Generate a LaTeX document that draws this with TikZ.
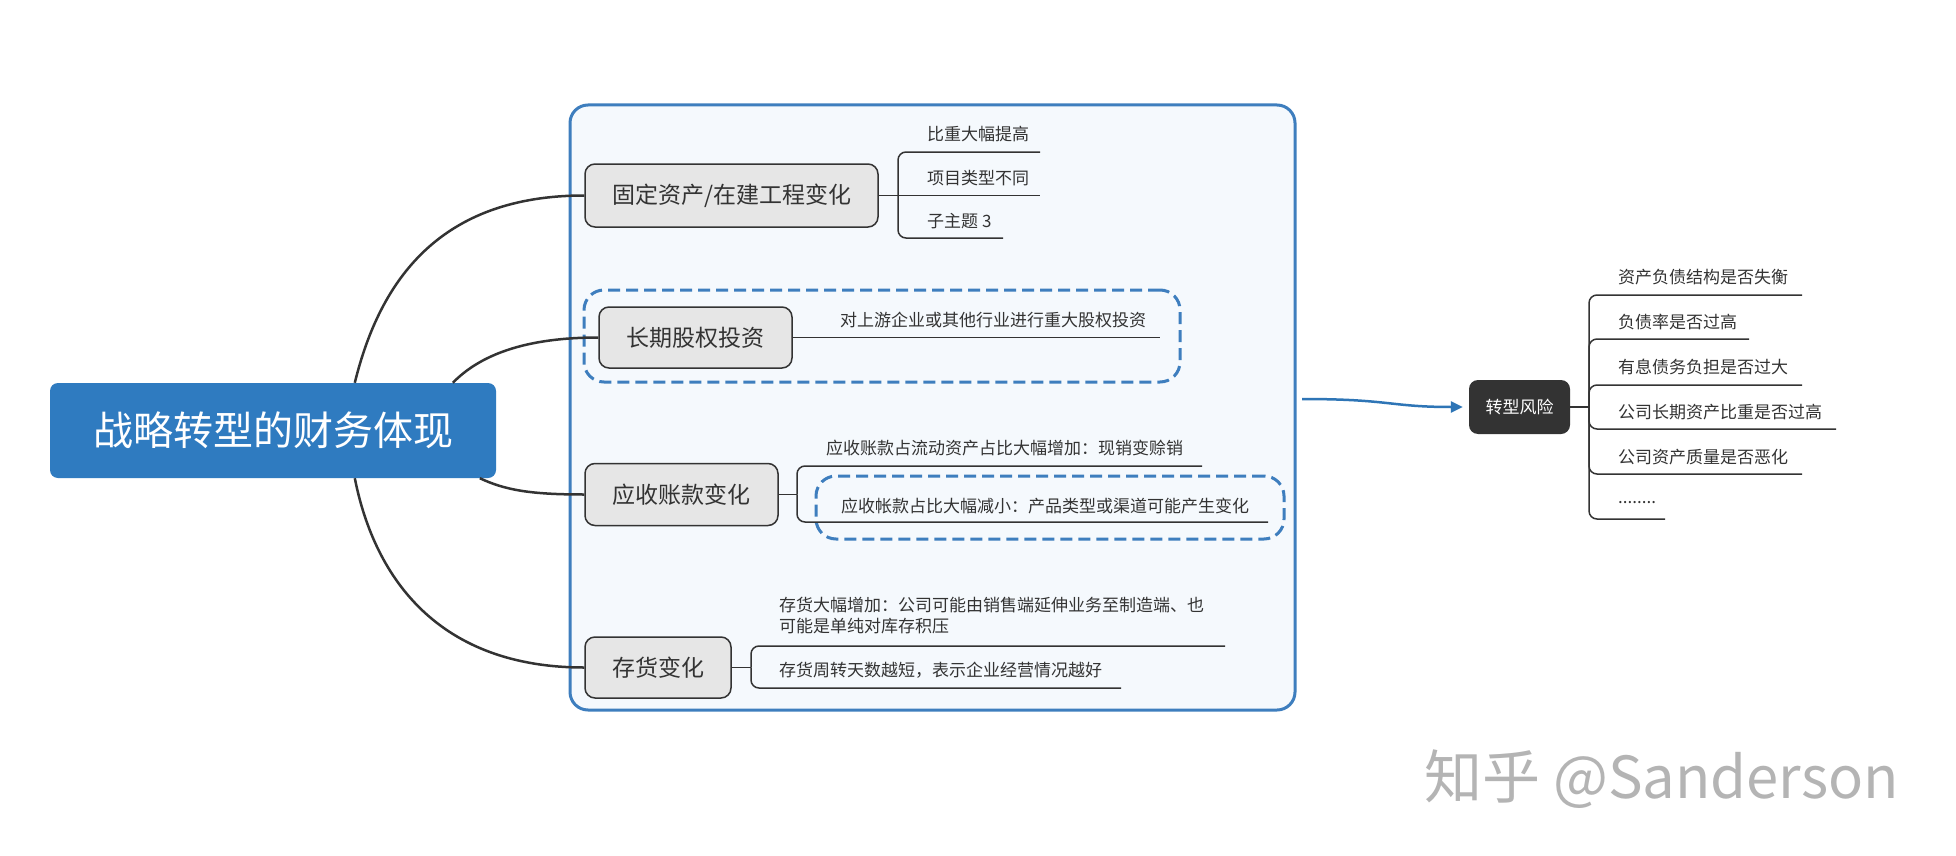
\documentclass[tikz,border=0pt]{standalone}
\usepackage{fontspec}
\setmainfont{Noto Sans CJK SC}
\usetikzlibrary{arrows.meta}
\definecolor{rootblue}{RGB}{47,123,192}
\definecolor{boxblue}{RGB}{62,126,190}
\definecolor{boxfill}{RGB}{245,249,253}
\definecolor{nodegray}{RGB}{230,230,230}
\definecolor{ink}{RGB}{51,51,51}
\definecolor{arrowblue}{RGB}{46,117,182}
\definecolor{wmgray}{RGB}{180,180,180}
\tikzset{
 rootnode/.style={fill=rootblue, rounded corners=8pt, text=white, font=\fontsize{40}{48}\selectfont, inner sep=0pt},
 branch/.style={fill=nodegray, draw=ink, line width=1.5pt, rounded corners=10pt, font=\fontsize{23}{28}\selectfont, text=ink, inner sep=0pt},
 leaf/.style={font=\fontsize{17}{21}\selectfont, text=ink, inner sep=0pt, anchor=west},
 mainline/.style={draw=ink, line width=2.5pt},
 subline/.style={draw=ink, line width=1.5pt, rounded corners=8pt},
 grpbox/.style={draw=boxblue, fill=boxfill, line width=3pt, rounded corners=18pt, inner sep=0pt},
 dashbox/.style={draw=boxblue, line width=3pt, dash pattern=on 12pt off 6pt, rounded corners=20pt, inner sep=0pt},
 risknode/.style={fill=ink, rounded corners=9pt, text=white, font=\fontsize{17}{21}\selectfont, inner sep=0pt},
}
\begin{document}
\begin{tikzpicture}[x=1pt,y=-1pt]
\useasboundingbox (0,0) rectangle (1956,856);
\fill[white] (0,0) rectangle (1956,856);

% group container and dashed boxes
\node[grpbox, minimum width=725pt, minimum height=605pt] (grp) at (932.5,407.5) {};
\node[dashbox, minimum width=596pt, minimum height=92pt] (dsh1) at (882,336) {};
\node[dashbox, minimum width=468pt, minimum height=63pt] (dsh2) at (1050,507.5) {};

% root and branches
\node[rootnode, minimum width=446pt, minimum height=95pt] (root) at (273,430.5) {战略转型的财务体现};
\node[branch, minimum width=293pt, minimum height=63pt] (n1) at (731.5,195.5) {固定资产/在建工程变化};
\node[branch, minimum width=193pt, minimum height=61pt] (n2) at (695.5,337.5) {长期股权投资};
\node[branch, minimum width=193pt, minimum height=62pt] (n3) at (681.5,494.5) {应收账款变化};
\node[branch, minimum width=146pt, minimum height=61pt] (n4) at (658,667.5) {存货变化};

% main curves
\draw[mainline] ([xshift=305pt]root.north west) .. controls (380,280) and (440,195.5) .. (n1.west);
\draw[mainline] ([xshift=403pt]root.north west) .. controls (480,355) and (525,337.5) .. (n2.west);
\draw[mainline] ([xshift=430pt]root.south west) .. controls (505,490) and (530,494.5) .. (n3.west);
\draw[mainline] ([xshift=305pt]root.south west) .. controls (375,580) and (440,667.5) .. (n4.west);

% branch 1 children
\coordinate (s1) at (898,195.5);
\coordinate (e11) at (1040,152);
\coordinate (e12) at (1040,195.5);
\coordinate (e13) at (1003,238);
\draw[subline] (n1.east) -- (e12);
\draw[subline] (s1) |- (e11);
\draw[subline] (s1) |- (e13);
\node[leaf] (t11) at (927,134) {比重大幅提高};
\node[leaf] (t12) at (927,178) {项目类型不同};
\node[leaf] (t13) at (927,221) {子主题 3};

% branch 2 child
\coordinate (e21) at (1160,337.5);
\draw[subline] (n2.east) -- (e21);
\node[leaf] (t21) at (840,320) {对上游企业或其他行业进行重大股权投资};

% branch 3 children
\coordinate (s3) at (797,494.5);
\coordinate (e31) at (1202,466);
\coordinate (e32) at (1268,522);
\draw[subline] (n3.east) -- (s3);
\draw[subline] (s3) |- (e31);
\draw[subline] (s3) |- (e32);
\node[leaf] (t31) at (826,448) {应收账款占流动资产占比大幅增加：现销变赊销};
\node[leaf] (t32) at (841,506) {应收帐款占比大幅减小：产品类型或渠道可能产生变化};

% branch 4 children
\coordinate (s4) at (751,667.5);
\coordinate (e41) at (1225,646);
\coordinate (e42) at (1121,688);
\draw[subline] (n4.east) -- (s4);
\draw[subline] (s4) |- (e41);
\draw[subline] (s4) |- (e42);
\node[leaf, align=left] (t41) at (779,615.5) {存货大幅增加：公司可能由销售端延伸业务至制造端、也\\可能是单纯对库存积压};
\node[leaf] (t42) at (779,670) {存货周转天数越短，表示企业经营情况越好};

% risk node
\node[risknode, minimum width=101pt, minimum height=54pt] (risk) at (1519.5,407) {转型风险};
\coordinate (a0) at (1302,399);
\draw[arrowblue, line width=2.5pt, -{Triangle[length=12pt,width=11pt]}, shorten >=6pt] (a0) .. controls (1390,399) and (1390,407) .. (risk.west);

\coordinate (s5) at (1589,407);
\coordinate (e51) at (1802,295);
\coordinate (e52) at (1749,339);
\coordinate (e53) at (1802,385);
\coordinate (e54) at (1836,429);
\coordinate (e55) at (1802,474);
\coordinate (e56) at (1665,519);
\draw[subline] (risk.east) -- (s5);
\foreach \e in {e51,e52,e53,e54,e55,e56} {\draw[subline] (s5) |- (\e);}
\node[leaf] (t51) at (1618,277) {资产负债结构是否失衡};
\node[leaf] (t52) at (1618,322) {负债率是否过高};
\node[leaf] (t53) at (1618,367) {有息债务负担是否过大};
\node[leaf] (t54) at (1618,412) {公司长期资产比重是否过高};
\node[leaf] (t55) at (1618,457) {公司资产质量是否恶化};
\node[leaf] (t56) at (1618,503) {........};

% watermark
\node[anchor=west, inner sep=0pt, text=wmgray, font=\fontsize{58}{64}\selectfont] (wm) at (1424,779) {知乎 @Sanderson};
\end{tikzpicture}
\end{document}
